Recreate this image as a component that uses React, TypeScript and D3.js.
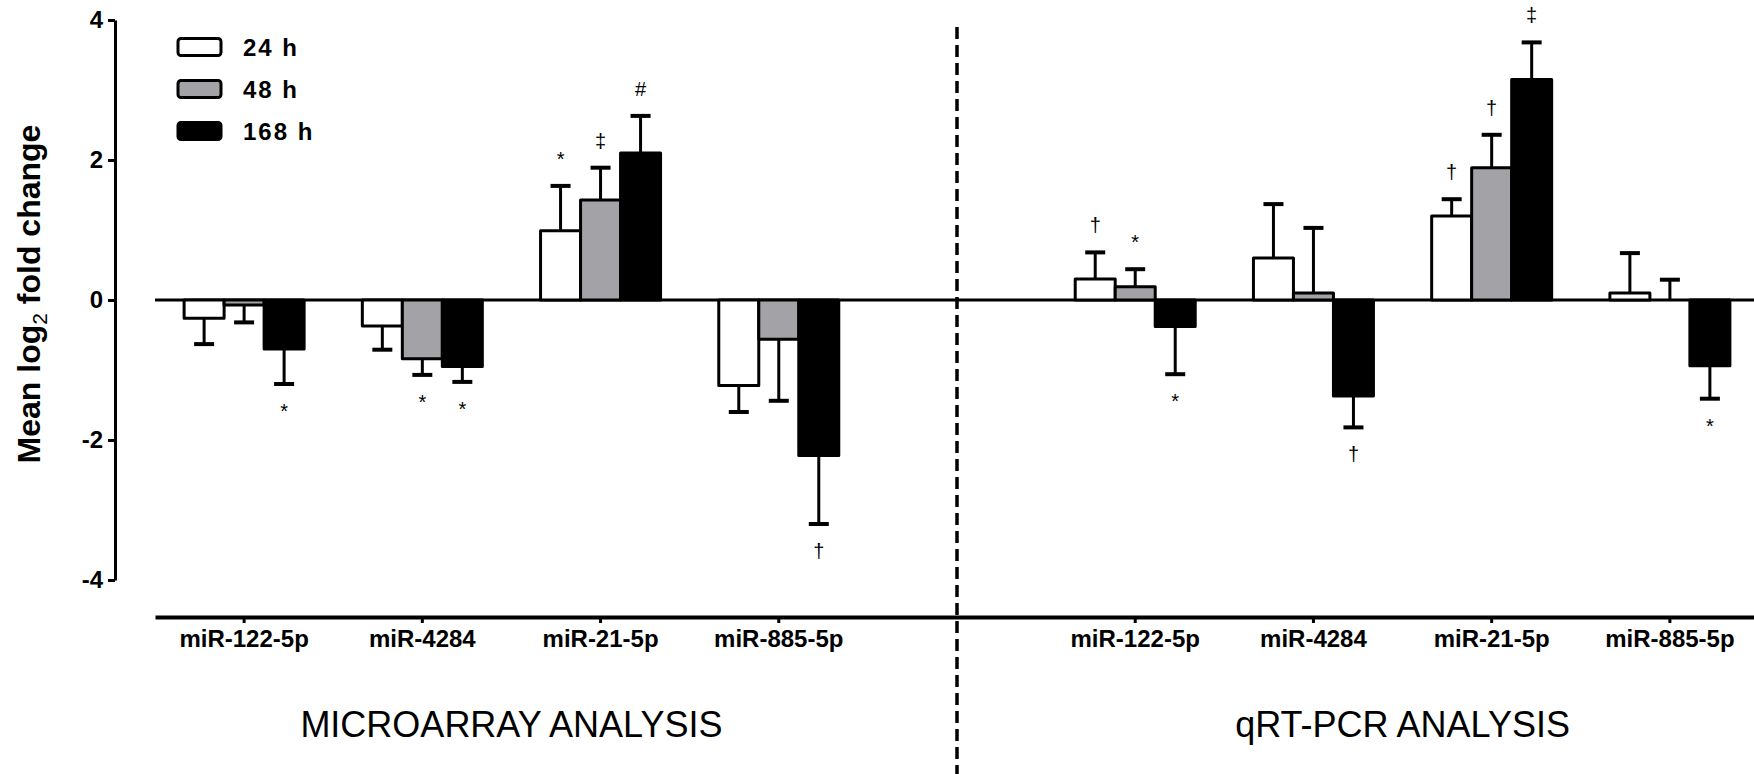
import React, { useRef, useEffect } from "react";
import * as d3 from "d3";

const categories = ["miR-122-5p", "miR-4284", "miR-21-5p", "miR-885-5p"];
const series = ["24 h", "48 h", "168 h"];
const seriesFill = ["#ffffff", "#a3a3a7", "#000000"];
const yTicks = [-4, -2, 0, 2, 4];

// microarray analysis
const ma24 = [-0.26, -0.37, 0.99, -1.22];
const ma48 = [-0.07, -0.84, 1.43, -0.56];
const ma168 = [-0.7, -0.95, 2.1, -2.22];
const ma24Err = [0.37, 0.34, 0.64, 0.38];
const ma48Err = [0.25, 0.23, 0.46, 0.88];
const ma168Err = [0.5, 0.22, 0.53, 0.98];
const ma24Sig = ["", "", "*", ""];
const ma48Sig = ["", "*", "‡", ""];
const ma168Sig = ["*", "*", "#", "†"];

// qRT-PCR analysis
const pcr24 = [0.3, 0.6, 1.2, 0.1];
const pcr48 = [0.19, 0.1, 1.89, 0.0];
const pcr168 = [-0.38, -1.37, 3.15, -0.94];
const pcr24Err = [0.38, 0.77, 0.24, 0.57];
const pcr48Err = [0.25, 0.93, 0.47, 0.29];
const pcr168Err = [0.68, 0.45, 0.53, 0.47];
const pcr24Sig = ["†", "", "†", ""];
const pcr48Sig = ["*", "", "†", ""];
const pcr168Sig = ["*", "†", "‡", "*"];

const W = 1754;
const H = 774;
const font = "'Liberation Sans', Arial, sans-serif";

export default function App() {
  const svgRef = useRef(null);

  useEffect(() => {
    document.body.style.margin = "0";
    draw();
  }, []);

  const draw = () => {
    const svg = d3.select(svgRef.current);
    svg.selectAll("*").remove();

    const panels = [
      { key: "ma", title: "MICROARRAY ANALYSIS", mean: [ma24, ma48, ma168], err: [ma24Err, ma48Err, ma168Err], sig: [ma24Sig, ma48Sig, ma168Sig] },
      { key: "pcr", title: "qRT-PCR ANALYSIS", mean: [pcr24, pcr48, pcr168], err: [pcr24Err, pcr48Err, pcr168Err], sig: [pcr24Sig, pcr48Sig, pcr168Sig] },
    ];

    const slots = [
      ...categories.map(c => "ma|" + c),
      "gap",
      ...categories.map(c => "pcr|" + c),
    ];
    const x0 = d3.scaleBand().domain(slots).range([155, 1759]);
    const x1 = d3.scaleBand().domain(series).range([-60, 60]);
    const y = d3.scaleLinear().domain([-4, 4]).range([580, 20]);
    const cx = (s: string) => (x0(s) as number) + x0.bandwidth() / 2;

    const rows: any[] = [];
    panels.forEach(p => {
      series.forEach((s, i) => {
        categories.forEach((c, j) => {
          rows.push({
            slot: p.key + "|" + c,
            s,
            i,
            v: p.mean[i][j],
            e: p.err[i][j],
            sig: p.sig[i][j],
          });
        });
      });
    });
    const barX = d => cx(d.slot) + (x1(d.s) as number);
    const barMid = d => barX(d) + x1.bandwidth() / 2;
    const errEnd = d => (d.v >= 0 ? d.v + d.e : d.v - d.e);

    // dashed separator
    svg.append("line")
      .attr("x1", cx("gap")).attr("x2", cx("gap"))
      .attr("y1", 27).attr("y2", H)
      .attr("stroke", "#000").attr("stroke-width", 3.5)
      .attr("stroke-dasharray", "12 6");

    // zero line
    svg.append("line")
      .attr("x1", 155).attr("x2", W)
      .attr("y1", y(0)).attr("y2", y(0))
      .attr("stroke", "#000").attr("stroke-width", 3);

    // error bars
    const eb = svg.append("g").attr("stroke", "#000");
    eb.selectAll("line.stem")
      .data(rows)
      .join("line")
      .attr("class", "stem")
      .attr("x1", barMid).attr("x2", barMid)
      .attr("y1", d => y(d.v)).attr("y2", d => y(errEnd(d)))
      .attr("stroke-width", 3);
    eb.selectAll("line.cap")
      .data(rows)
      .join("line")
      .attr("class", "cap")
      .attr("x1", d => barMid(d) - 10).attr("x2", d => barMid(d) + 10)
      .attr("y1", d => y(errEnd(d))).attr("y2", d => y(errEnd(d)))
      .attr("stroke-width", 4);

    // bars
    svg.append("g")
      .selectAll("rect")
      .data(rows)
      .join("rect")
      .attr("x", barX)
      .attr("width", x1.bandwidth())
      .attr("y", d => y(Math.max(d.v, 0)))
      .attr("height", d => Math.abs(y(d.v) - y(0)))
      .attr("fill", d => seriesFill[d.i])
      .attr("stroke", "#000")
      .attr("stroke-width", 3)
      .attr("stroke-linejoin", "round");

    // significance marks
    svg.append("g")
      .selectAll("text")
      .data(rows.filter(d => d.sig))
      .join("text")
      .attr("x", barMid)
      .attr("y", d => (d.v >= 0 ? y(errEnd(d)) - 27 : y(errEnd(d)) + 27))
      .attr("dy", "0.35em")
      .attr("text-anchor", "middle")
      .attr("font-family", font)
      .attr("font-size", 20)
      .text(d => d.sig);

    // y axis
    const yAxis = svg.append("g")
      .attr("transform", "translate(115,0)")
      .call(d3.axisLeft(y).tickValues(yTicks).tickFormat(d => String(d)).tickSize(7).tickSizeOuter(0).tickPadding(5));
    yAxis.select(".domain").attr("stroke-width", 3);
    yAxis.selectAll(".tick line").attr("stroke-width", 3);
    yAxis.selectAll(".tick text")
      .attr("font-family", font).attr("font-size", 24).attr("font-weight", "bold").attr("fill", "#000");

    // x axis
    const xAxis = svg.append("g")
      .attr("transform", `translate(0,${617})`)
      .call(d3.axisBottom(x0).tickValues(slots.filter(s => s !== "gap")).tickFormat(s => s.split("|")[1]).tickSize(6).tickSizeOuter(0).tickPadding(7));
    xAxis.select(".domain").attr("stroke-width", 4);
    xAxis.selectAll(".tick line").attr("stroke-width", 3);
    xAxis.selectAll(".tick text")
      .attr("font-family", font).attr("font-size", 24).attr("font-weight", "bold").attr("fill", "#000");

    // section titles
    svg.append("g")
      .selectAll("text")
      .data(panels)
      .join("text")
      .attr("x", p => (cx(p.key + "|" + categories[0]) + cx(p.key + "|" + categories[categories.length - 1])) / 2)
      .attr("y", 737)
      .attr("text-anchor", "middle")
      .attr("font-family", font)
      .attr("font-size", 36)
      .text(p => p.title);

    // y title
    const yt = svg.append("text")
      .attr("transform", "translate(40,294) rotate(-90)")
      .attr("text-anchor", "middle")
      .attr("font-family", font)
      .attr("font-size", 32)
      .attr("font-weight", "bold");
    yt.append("tspan").text("Mean log");
    yt.append("tspan").attr("dy", 7).attr("font-size", 21).attr("font-weight", "normal").text("2");
    yt.append("tspan").attr("dy", -7).text(" fold change");

    // legend
    const lg = svg.append("g")
      .selectAll("g")
      .data(series)
      .join("g")
      .attr("transform", (d, i) => `translate(178,${47 + i * 42})`);
    lg.append("rect")
      .attr("x", 0).attr("y", -8.5)
      .attr("width", 43).attr("height", 17).attr("rx", 3)
      .attr("fill", (d, i) => seriesFill[i])
      .attr("stroke", "#000").attr("stroke-width", 3);
    lg.append("text")
      .attr("x", 65).attr("dy", "0.36em")
      .attr("font-family", font).attr("font-size", 24).attr("font-weight", "bold")
      .attr("letter-spacing", 2)
      .text(d => d);
  };

  return (
    <svg ref={svgRef} width={W} height={H} style={{ display: "block", background: "#fff" }}></svg>
  );
}
